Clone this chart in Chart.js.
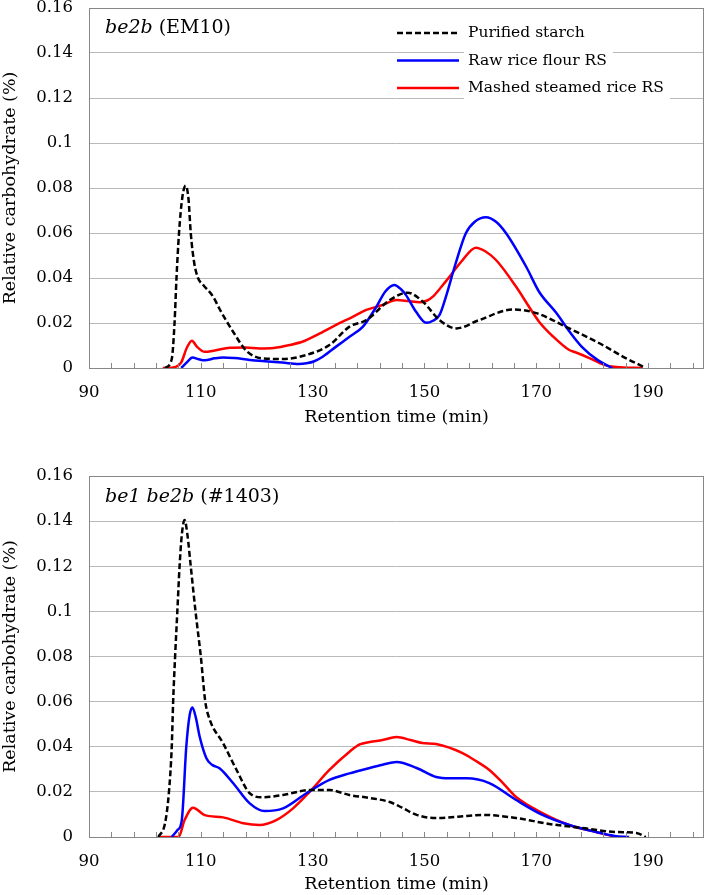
<!DOCTYPE html>
<html>
<head>
<meta charset="utf-8">
<script src="https://cdn.jsdelivr.net/npm/chart.js@4"></script>
<style>
  html, body { margin: 0; padding: 0; background: #fff; overflow: hidden; }
  .box { position: absolute; left: 0; width: 709px; }
  #top { top: 0; height: 430px; }
  #bottom { top: 440px; height: 455px; }
</style>
</head>
<body>
<div class="box" id="top"><canvas id="c1"></canvas></div>
<div class="box" id="bottom"><canvas id="c2"></canvas></div>
<script>
// series as [retention time (min), relative carbohydrate (%)]
const em10Starch = [[103.6,0],[104.8,0.004],[105.3,0.02],[105.65,0.04],[106.1,0.06],[106.7,0.076],[107.3,0.081],[107.8,0.075],[108.2,0.06],[108.8,0.047],[109.5,0.04],[110.4,0.037],[112.2,0.0317],[113.4,0.026],[115.8,0.016],[118.2,0.0075],[121,0.0043],[124.7,0.004],[128.9,0.0058],[133,0.0102],[136.6,0.0184],[139.6,0.0213],[143.8,0.0302],[147,0.0335],[149.7,0.0295],[152.7,0.0213],[155.7,0.0176],[159.8,0.0213],[165.8,0.026],[170,0.0244],[175.4,0.0182],[181.3,0.011],[186,0.0044],[189.3,0.0004]];
const em10Raw = [[106.5,0],[107.5,0.0025],[108.5,0.0047],[109.5,0.004],[110.7,0.0034],[112.5,0.0043],[114,0.0047],[116,0.0044],[118.75,0.0036],[121.5,0.003],[124.6,0.0024],[127.5,0.0018],[128.9,0.0021],[130.3,0.003],[131.8,0.005],[134.2,0.0095],[136.6,0.0139],[139,0.0184],[141.4,0.0272],[143,0.034],[144.6,0.0369],[145.8,0.035],[146.7,0.0324],[148.5,0.025],[150.3,0.0201],[151.5,0.021],[152.7,0.0236],[154,0.033],[155.4,0.045],[157.4,0.0599],[159,0.065],[161,0.067],[162.8,0.065],[164.6,0.0599],[168.2,0.045],[170.5,0.0339],[173.6,0.0244],[176,0.016],[178.2,0.0093],[181,0.0035],[183.6,0]];
const em10Mashed = [[103.2,0],[105.5,0.0005],[106.5,0.0025],[107.5,0.009],[108.4,0.0121],[109.3,0.0095],[110.7,0.0072],[112.5,0.0078],[115.2,0.009],[118,0.0091],[120.5,0.0087],[123,0.0089],[125.9,0.0102],[128.5,0.012],[131.3,0.0154],[134.8,0.0199],[137,0.0225],[139.6,0.0258],[142.5,0.028],[145,0.0302],[147,0.0298],[149.1,0.0292],[150.5,0.03],[151.5,0.0317],[153,0.036],[154.5,0.0406],[156.5,0.047],[159.2,0.0535],[160.8,0.052],[162.8,0.048],[166.4,0.0361],[168.5,0.028],[170.5,0.0206],[173,0.014],[175.9,0.008],[177,0.007],[179.5,0.0044],[182,0.0015],[184.3,0.0004],[189,0]];

const m1403Starch = [[102.4,0],[103.6,0.0061],[104.3,0.02],[104.8,0.04],[105.05,0.06],[105.4,0.08],[105.8,0.1],[106.2,0.12],[106.6,0.134],[107.1,0.1405],[107.6,0.134],[108.2,0.12],[109.05,0.1],[110,0.08],[110.8,0.06],[111.6,0.052],[114,0.0415],[116.4,0.0297],[118.75,0.0194],[121.1,0.0176],[124.7,0.0186],[129.5,0.0208],[133,0.0208],[136.6,0.0186],[140.2,0.0173],[143.8,0.0155],[146,0.013],[148.6,0.0098],[152.1,0.0084],[156,0.009],[160.4,0.0098],[166.4,0.0084],[172.3,0.0058],[178.2,0.004],[184.3,0.0022],[187.9,0.0018],[189.6,0]];
const m1403Raw = [[104.8,0],[105.8,0.003],[106.6,0.0075],[107.4,0.04],[108,0.054],[108.5,0.0574],[109.1,0.053],[109.8,0.0444],[111,0.0349],[112,0.032],[113.4,0.0304],[115.8,0.0238],[118.75,0.0149],[121.4,0.0115],[124.7,0.0127],[128.9,0.0194],[133,0.0253],[136.6,0.0282],[140.2,0.0306],[142.5,0.032],[145,0.0332],[148.6,0.0306],[152.1,0.0266],[154.5,0.026],[157.5,0.026],[161.6,0.0239],[166.4,0.0164],[171.1,0.0098],[175.9,0.0053],[180.7,0.0022],[184,0.0005],[186.6,0]];
const m1403Mashed = [[102.4,0],[106,0],[107.1,0.0075],[108.6,0.013],[110.7,0.0097],[114,0.0087],[117.6,0.0061],[120.5,0.0053],[123.5,0.0075],[126.5,0.0127],[129.5,0.0201],[133,0.0297],[136.6,0.0378],[138.4,0.041],[140.2,0.0421],[142.5,0.043],[145,0.0443],[147.5,0.043],[149.6,0.0417],[152.1,0.0412],[156.8,0.0372],[159,0.034],[161.6,0.0297],[164,0.024],[166.4,0.0177],[171.1,0.0106],[175.9,0.0053],[180.7,0.0022],[184.3,0]];

const seriesNames = ["Purified starch", "Raw rice flour RS", "Mashed steamed rice RS"];
const xTickLabels = [90, 110, 130, 150, 170, 190];
const yTicks = [0, 0.02, 0.04, 0.06, 0.08, 0.1, 0.12, 0.14, 0.16];

const FONT = '"DejaVu Serif", serif';
const AXIS_GRAY = "#878787";

function ds(label, pts, color, dash) {
  return {
    label,
    data: pts.map(p => ({ x: p[0], y: p[1] })),
    borderColor: color,
    borderWidth: 2.5,
    borderDash: dash || [],
    pointRadius: 0,
    cubicInterpolationMode: "monotone",
    fill: false,
  };
}

// frame, inside minor ticks, panel caption and (optionally) legend
const decor = {
  id: "decor",
  afterDraw(chart, args, opts) {
    const { ctx, chartArea: a } = chart;
    const xs = chart.scales.x;
    ctx.save();
    ctx.strokeStyle = AXIS_GRAY;
    ctx.lineWidth = 1;
    ctx.beginPath();
    for (let v = 90; v <= 200; v += 4) {
      const px = Math.round(xs.getPixelForValue(v)) + 0.5;
      ctx.moveTo(px, a.bottom);
      ctx.lineTo(px, a.bottom - 5);
    }
    ctx.stroke();
    ctx.strokeRect(a.left + 0.5, a.top + 0.5, a.right - a.left - 1, a.bottom - a.top);

    // caption
    ctx.fillStyle = "#000";
    ctx.textBaseline = "middle";
    let cx = a.left + 16;
    const cy = a.top + opts.captionY;
    opts.caption.forEach(part => {
      ctx.font = (part.italic ? "italic " : "") + "19px " + FONT;
      ctx.fillText(part.text, cx, cy);
      cx += ctx.measureText(part.text).width;
    });

    if (opts.legend) {
      const rows = [
        { color: "#000", dash: [6, 3] },
        { color: "#0000ff", dash: [] },
        { color: "#ff0000", dash: [] },
      ];
      ctx.font = "15.5px " + FONT;
      rows.forEach((r, i) => {
        const y = a.top + 25 + i * 27.5;
        const w = ctx.measureText(seriesNames[i]).width;
        ctx.fillStyle = "#fff";
        ctx.fillRect(464, y - 13, w + 10, 26);
        ctx.strokeStyle = r.color;
        ctx.lineWidth = 2.5;
        ctx.setLineDash(r.dash);
        ctx.beginPath();
        ctx.moveTo(397, y);
        ctx.lineTo(459, y);
        ctx.stroke();
        ctx.setLineDash([]);
        ctx.fillStyle = "#000";
        ctx.fillText(seriesNames[i], 468, y);
      });
    }
    ctx.restore();
  }
};

function makeChart(id, sets, cfg) {
  return new Chart(document.getElementById(id), {
    type: "line",
    data: {
      datasets: [
        ds(seriesNames[0], sets[0], "#000000", [6, 3]),
        ds(seriesNames[1], sets[1], "#0000ff"),
        ds(seriesNames[2], sets[2], "#ff0000"),
      ]
    },
    options: {
      responsive: true,
      maintainAspectRatio: false,
      animation: false,
      layout: { padding: { top: cfg.top, right: 5, left: 0, bottom: 0 } },
      plugins: {
        legend: { display: false },
        tooltip: { enabled: false },
        decor: { caption: cfg.caption, captionY: cfg.captionY, legend: cfg.legend },
      },
      scales: {
        x: {
          type: "linear",
          min: 90,
          max: 200,
          afterBuildTicks: s => { s.ticks = xTickLabels.map(v => ({ value: v })); },
          afterFit: s => { s.height = cfg.xHeight; s.paddingLeft = 0; s.paddingRight = 0; },
          grid: { display: false, drawTicks: false },
          border: { display: false },
          ticks: { padding: 15, color: "#000", font: { family: FONT, size: 16.5 }, maxRotation: 0 },
          title: {
            display: true,
            text: "Retention time (min)",
            color: "#000",
            font: { family: FONT, size: 17.5 },
            padding: { top: 0, bottom: cfg.titlePad },
          },
        },
        y: {
          min: 0,
          max: 0.16,
          afterBuildTicks: s => { s.ticks = yTicks.map(v => ({ value: v })); },
          afterFit: s => { s.width = 89; s.paddingTop = 0; s.paddingBottom = 0; },
          grid: { color: "#b9b9b9", lineWidth: 1, drawTicks: false },
          border: { display: false },
          ticks: {
            padding: 16,
            color: "#000",
            font: { family: FONT, size: 16.5 },
            callback: v => String(+v.toFixed(2)),
          },
          title: {
            display: true,
            text: "Relative carbohydrate (%)",
            color: "#000",
            font: { family: FONT, size: 17.5 },
            padding: { top: 0, bottom: 0 },
          },
        },
      },
    },
    plugins: [decor],
  });
}

makeChart("c1", [em10Starch, em10Raw, em10Mashed], {
  top: 8, xHeight: 62, titlePad: 2, legend: true, captionY: 20,
  caption: [{ text: "be2b", italic: true }, { text: " (EM10)" }],
});
makeChart("c2", [m1403Starch, m1403Raw, m1403Mashed], {
  top: 36, xHeight: 58, titlePad: 0, legend: false, captionY: 21,
  caption: [{ text: "be1 be2b", italic: true }, { text: " (#1403)" }],
});
</script>
</body>
</html>
